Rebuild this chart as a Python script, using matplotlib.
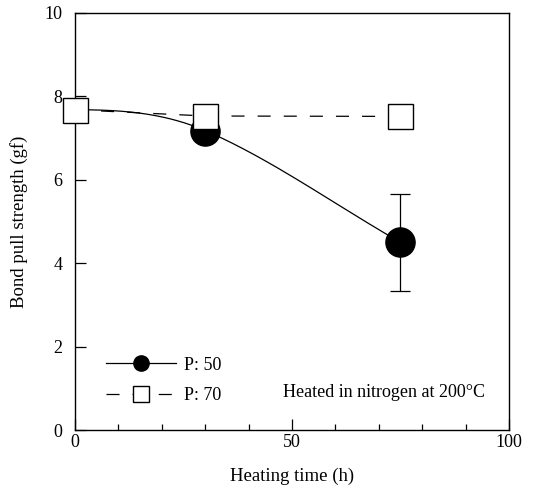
import matplotlib

matplotlib.use("Agg")  # headless render
import matplotlib.pyplot as plt  # noqa: E402
import numpy as np  # noqa: E402
from matplotlib.lines import Line2D  # noqa: E402

# values
hours = [0, 30, 75]
p50_strength = [7.68, 7.18, 4.50]
p50_err_low = [0.0, 0.0, 1.17]
p50_err_high = [0.0, 0.0, 1.16]
p70_strength = [7.68, 7.53, 7.52]
legend_labels = ["P: 50", "P: 70"]
note = "Heated in nitrogen at 200°C"


def smooth_path(x, y, n=80):
    """Cubic Hermite drawing of the fitted line: flat start, then follows the next segment."""
    x = np.asarray(x, float)
    y = np.asarray(y, float)
    sec = np.diff(y) / np.diff(x)
    m = np.concatenate([[0.0], 0.75 * sec[1:], [sec[-1]]])
    xs, ys = [], []
    for i in range(len(x) - 1):
        h = x[i + 1] - x[i]
        t = np.linspace(0, 1, n)
        h00 = 2 * t**3 - 3 * t**2 + 1
        h10 = t**3 - 2 * t**2 + t
        h01 = -2 * t**3 + 3 * t**2
        h11 = t**3 - t**2
        xs.append(x[i] + t * h)
        ys.append(h00 * y[i] + h10 * h * m[i] + h01 * y[i + 1] + h11 * h * m[i + 1])
    return np.concatenate(xs), np.concatenate(ys)


plt.rcParams["font.family"] = ["Liberation Serif", "DejaVu Serif"]
plt.rcParams["lines.scale_dashes"] = False

fig = plt.figure(figsize=(5.49, 4.90), dpi=100)
ax = fig.add_axes([0.1366, 0.1224, 0.7905, 0.8511])

dash = (9.4, 9.4)
lw = 0.9

# P: 50 -- solid curve, filled circles (the t=0 circle is hidden behind the square)
cx, cy = smooth_path(hours, p50_strength)
ax.plot(cx, cy, color="black", lw=lw, zorder=2)
ax.plot(hours, p50_strength, ls="none", marker="o", ms=21, mfc="black",
        mec="black", markevery=[1, 2], zorder=3, clip_on=False)
err_idx = [i for i in range(len(hours)) if p50_err_low[i] > 0 or p50_err_high[i] > 0]
ax.errorbar([hours[i] for i in err_idx], [p50_strength[i] for i in err_idx],
            yerr=[[p50_err_low[i] for i in err_idx], [p50_err_high[i] for i in err_idx]],
            fmt="none", ecolor="black", elinewidth=lw, capsize=7, capthick=lw, zorder=2)

# P: 70 -- dashed line, open squares
ax.plot(hours, p70_strength, color="black", lw=lw, dashes=dash, zorder=2)
ax.plot(hours, p70_strength, ls="none", marker="s", ms=18, mfc="white",
        mec="black", mew=1.0, zorder=4, clip_on=False)

ax.set_xlim(0, 100)
ax.set_ylim(0, 10)
ax.set_xticks([0, 50, 100])
ax.set_xticks(np.arange(10, 100, 10), minor=True)
ax.set_yticks([0, 2, 4, 6, 8, 10])
ax.tick_params(axis="x", which="major", direction="in", length=8, width=0.9,
               labelsize=13, pad=3)
ax.tick_params(axis="x", which="minor", direction="in", length=4.5, width=0.9)
ax.tick_params(axis="y", direction="in", length=8, width=0.9, labelsize=13, pad=9)
for s in ax.spines.values():
    s.set_linewidth(1.0)

ax.set_xlabel("Heating time (h)", fontsize=13.5, labelpad=12)
ax.set_ylabel("Bond pull strength (gf)", fontsize=13.5, labelpad=12)

handles = [
    Line2D([], [], color="black", lw=lw, marker="o", ms=11, mfc="black", mec="black"),
    Line2D([], [], color="black", lw=lw, dashes=dash, marker="s", ms=11, mfc="white",
           mec="black"),
]
ax.legend(handles, legend_labels, loc="center left", bbox_to_anchor=(0.035, 0.119),
          frameon=False, fontsize=13, handlelength=3.85, handletextpad=0.45,
          labelspacing=0.75, numpoints=1)

ax.text(0.479, 0.089, note, transform=ax.transAxes, fontsize=13, va="center", ha="left")

fig.savefig("out.png", dpi=100)
